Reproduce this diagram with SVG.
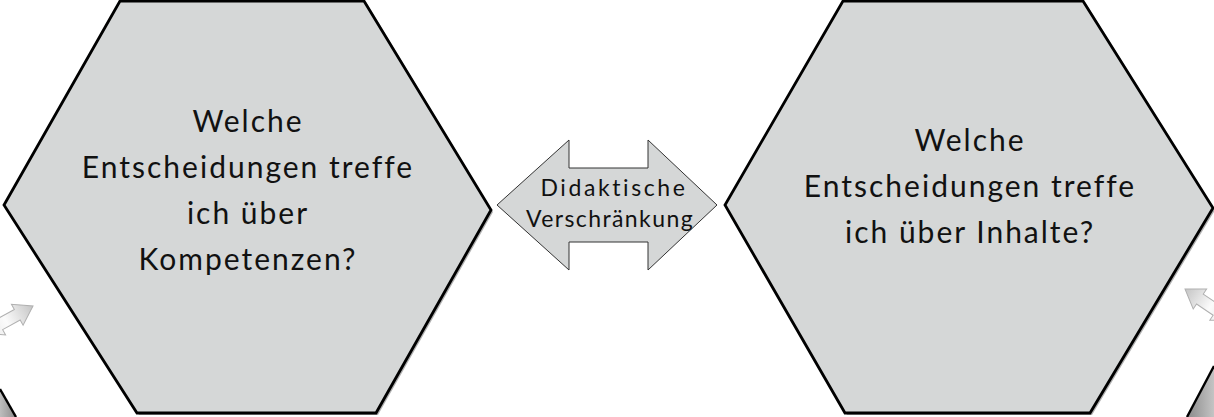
<svg xmlns="http://www.w3.org/2000/svg" width="1214" height="417" viewBox="0 0 1214 417">
<style>
.hex{fill:#d5d7d7;stroke:#000;stroke-width:2.8;stroke-linejoin:miter}
.shadow{fill:#7a7a7a;opacity:0.6}
.t{font-family:Lato,"Open Sans",sans-serif;fill:#111;text-anchor:middle}
.big{font-size:30px;letter-spacing:2px}
.small{font-size:23px}
.dbl{fill:#d5d7d7;stroke:#333;stroke-width:1}
.mini{fill:url(#gMini);stroke:#b0b0b0;stroke-width:1}
.corner{stroke:#000;stroke-width:2.4}
</style>
<defs>
<linearGradient id="gMini" gradientUnits="userSpaceOnUse" x1="0" y1="0" x2="56" y2="0">
<stop offset="0" stop-color="#c4c4c4"/>
<stop offset="0.55" stop-color="#fbfbfb"/>
<stop offset="1" stop-color="#e6e6e6"/>
</linearGradient>
<linearGradient id="gCornerL" x1="0" y1="0" x2="1" y2="0">
<stop offset="0" stop-color="#bdbdbd"/>
<stop offset="1" stop-color="#8c8c8c"/>
</linearGradient>
<linearGradient id="gCornerR" x1="0" y1="0" x2="1" y2="0">
<stop offset="0" stop-color="#8a8a8a"/>
<stop offset="1" stop-color="#c4c4c4"/>
</linearGradient>
<path id="miniArrow" d="M0,0 L18,-12 L18,-6 L38,-6 L38,-12 L56,0 L38,12 L38,6 L18,6 L18,12 Z"/>
</defs>

<g id="corner-left">
<path d="M0,389 L16,417 L0,417 Z" fill="url(#gCornerL)"/>
<path d="M0,389 L16,417" class="corner" fill="none"/>
</g>
<g id="corner-right">
<path d="M1214,366 L1187,417 L1214,417 Z" fill="url(#gCornerR)"/>
<path d="M1214,366 L1187,417" class="corner" fill="none"/>
</g>

<g id="connectors">
<use href="#miniArrow" class="mini" transform="translate(33,306) rotate(151)"/>
<use href="#miniArrow" class="mini" transform="translate(1185,289) rotate(34)"/>
</g>

<g id="hex-kompetenzen">
<polygon class="shadow" points="122,2 366,2 493,212 378,415 139,415 6,207"/>
<polygon class="hex" points="120,1 364,1 491,210 376,413 137,413 4,205"/>
<text class="t big" x="248" y="132">Welche</text>
<text class="t big" x="248" y="178">Entscheidungen treffe</text>
<text class="t big" x="248" y="224">ich über</text>
<text class="t big" x="248" y="270">Kompetenzen?</text>
</g>

<g id="hex-inhalte">
<polygon class="shadow" points="845,2 1085,2 1215,210 1092,415 847,415 727,207"/>
<polygon class="hex" points="843,1 1083,1 1213,208 1090,413 845,413 725,205"/>
<text class="t big" x="970" y="151">Welche</text>
<text class="t big" x="970" y="197">Entscheidungen treffe</text>
<text class="t big" x="970" y="243">ich über Inhalte?</text>
</g>

<g id="didaktische-verschraenkung">
<path class="dbl" d="M497,205 L569,140 L569,168 L648,168 L648,140 L717,205 L648,270 L648,242 L569,242 L569,270 Z"/>
<text class="t small" x="614" y="196" style="letter-spacing:2.6px">Didaktische</text>
<text class="t small" x="610" y="227" style="letter-spacing:1.4px">Verschränkung</text>
</g>
</svg>
